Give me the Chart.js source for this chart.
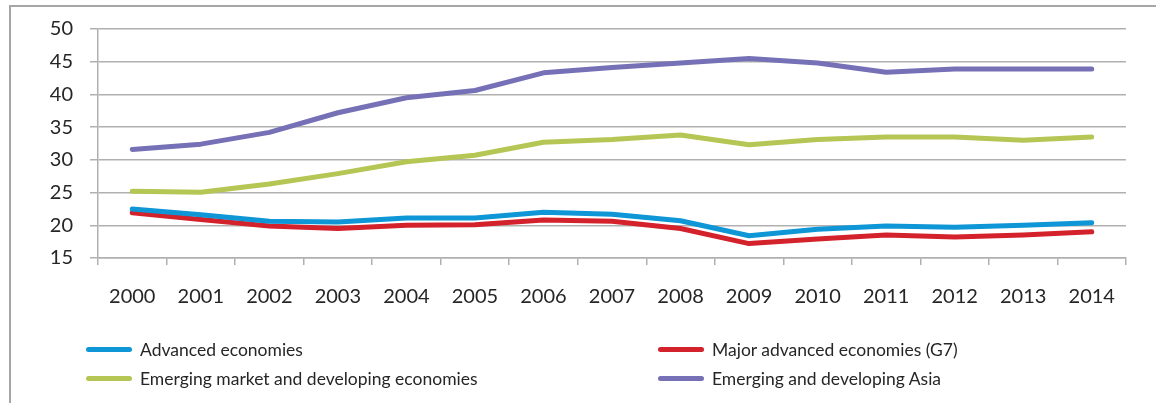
<!DOCTYPE html>
<html>
<head>
<meta charset="utf-8">
<script src="https://cdn.jsdelivr.net/npm/chart.js@4.4.1/dist/chart.umd.min.js"></script>
<style>
    html, body { margin: 0; padding: 0; width: 1156px; height: 403px; overflow: hidden; background: #fff; }
    #frame { position: absolute; left: 9px; top: 5px; width: 1300px; height: 600px; border: 2px solid #a6a6a6; box-sizing: border-box; }
    #wrap { position: absolute; left: 0; top: 0; width: 1156px; height: 403px; }
    #legend { position: absolute; left: 0; top: 0; width: 1156px; height: 403px; pointer-events: none; font-family: Lato, 'Liberation Sans', sans-serif; font-size: 17.5px; color: #262626; }
    .item { position: absolute; display: flex; align-items: center; white-space: nowrap; }
    .swatch { width: 46px; height: 5px; border-radius: 3px; margin-right: 8px; }
</style>
</head>
<body>
<div id="frame"></div>
<div id="wrap"><canvas id="chart"></canvas></div>
<div id="legend"></div>
<script>
// --- 資料 ---
const years = ['2000', '2001', '2002', '2003', '2004', '2005', '2006', '2007', '2008', '2009', '2010', '2011', '2012', '2013', '2014'];
const advanced = [22.5, 21.6, 20.6, 20.5, 21.1, 21.1, 22.0, 21.7, 20.7, 18.4, 19.4, 19.9, 19.7, 20.0, 20.4];
const g7 = [21.9, 20.9, 19.9, 19.5, 20.0, 20.1, 20.8, 20.6, 19.5, 17.2, 17.9, 18.5, 18.2, 18.5, 19.0];
const emerging = [25.2, 25.05, 26.3, 27.9, 29.7, 30.7, 32.7, 33.1, 33.8, 32.3, 33.1, 33.5, 33.5, 33.0, 33.5];
const asia = [31.6, 32.4, 34.2, 37.2, 39.5, 40.6, 43.3, 44.1, 44.8, 45.5, 44.8, 43.4, 43.9, 43.9, 43.9];

const gridColor = '#b0b0b0';
const textColor = '#262626';

// 圖例位置 (兩欄)
const legendSlots = [
    { x: 86, y: 349 },
    { x: 658, y: 349 },
    { x: 86, y: 378 },
    { x: 658, y: 378 }
];

const datasets = [
    { label: 'Advanced economies', data: advanced, borderColor: '#0e96d6' },
    { label: 'Major advanced economies (G7)', data: g7, borderColor: '#d3222b' },
    { label: 'Emerging market and developing economies', data: emerging, borderColor: '#b5c654' },
    { label: 'Emerging and developing Asia', data: asia, borderColor: '#7671b6' }
].map(d => Object.assign(d, {
    borderWidth: 5,
    pointRadius: 0,
    tension: 0,
    borderCapStyle: 'round',
    borderJoinStyle: 'round',
    fill: false
}));

const chart = new Chart(document.getElementById('chart'), {
    type: 'line',
    data: { labels: years, datasets: datasets },
    options: {
        responsive: true,
        maintainAspectRatio: false,
        animation: false,
        layout: { padding: { left: 0, top: 27, right: 30, bottom: 0 } },
        plugins: { legend: { display: false }, tooltip: { enabled: false } },
        scales: {
            x: {
                offset: true,
                grid: { offset: true, drawOnChartArea: false, drawTicks: true, tickLength: 7, color: gridColor, lineWidth: 1.5 },
                border: { display: true, color: gridColor, width: 1.5 },
                ticks: { color: textColor, font: { family: 'Lato', size: 20 }, padding: 20, maxRotation: 0, autoSkip: false },
                afterFit: s => { s.height = 145; }
            },
            y: {
                min: 15,
                max: 50,
                ticks: { stepSize: 5, color: textColor, font: { family: 'Lato', size: 20 }, padding: 17 },
                grid: { color: gridColor, lineWidth: 1.5, tickLength: 8 },
                border: { display: true, color: gridColor, width: 1.5 },
                afterFit: s => { s.width = 98; }
            }
        }
    }
});

// HTML 圖例
const legendEl = document.getElementById('legend');
legendEl.innerHTML = chart.data.datasets.map((d, i) => `
    <div class="item" style="left:${legendSlots[i].x}px; top:${legendSlots[i].y - 12}px; height:24px;">
        <span class="swatch" style="background:${d.borderColor}"></span>${d.label}
    </div>`).join('');
</script>
</body>
</html>
